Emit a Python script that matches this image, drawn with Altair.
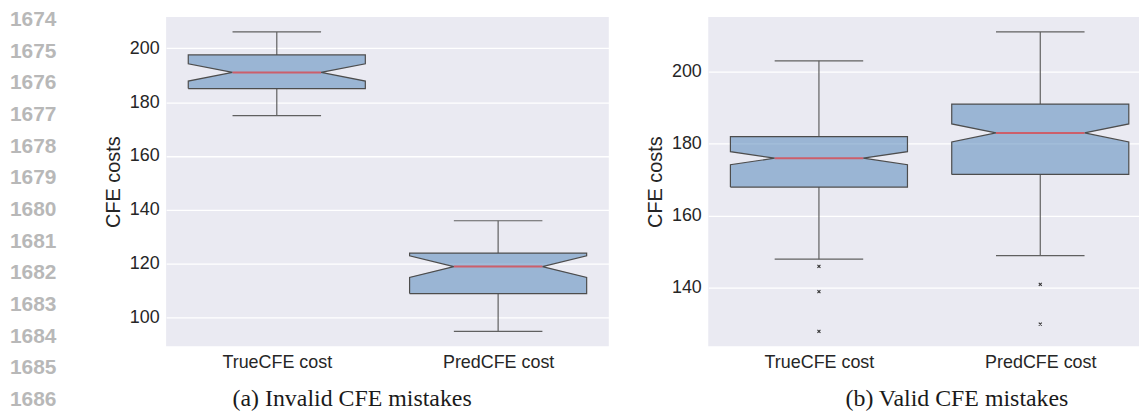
import altair as alt
import pandas as pd

# Category labels shared by both panels
categories = ["TrueCFE cost", "PredCFE cost"]

# Box statistics per category: lower whisker, Q1, notch low, median, notch high, Q3, upper whisker
invalid_whisker_lo = [175, 95]
invalid_q1 = [185, 109]
invalid_notch_lo = [187.8, 115]
invalid_median = [191, 119]
invalid_notch_hi = [194.2, 123]
invalid_q3 = [197.5, 124]
invalid_whisker_hi = [206, 136]
invalid_outliers = [[], []]

valid_whisker_lo = [148, 149]
valid_q1 = [168, 171.5]
valid_notch_lo = [174.2, 180.5]
valid_median = [176, 183]
valid_notch_hi = [177.8, 185.5]
valid_q3 = [182, 191]
valid_whisker_hi = [203, 211]
valid_outliers = [[146, 139, 128], [141, 130]]

# Margin line numbers printed down the left edge
line_numbers = list(range(1674, 1687))

captions = ["(a) Invalid CFE mistakes", "(b) Valid CFE mistakes"]

BOX_HALF = 0.4
NOTCH_HALF = 0.2
FILL = "#5888bb"
FILL_OPACITY = 0.55
EDGE = "#4d4d4d"
WHISK = "#606060"
MEDIAN = "#cc5f6b"
FONT = "Liberation Sans"

label_expr = " : ".join(
    [f"datum.value == {i} ? '{c}'" for i, c in enumerate(categories[:-1])]
    + [f"'{categories[-1]}'"]
)


def notch_outline(i, q1, nlo, med, nhi, q3):
    """Closed outline of one notched box, as (x, y) vertices."""
    b, n = BOX_HALF, NOTCH_HALF
    return [
        (i - b, q1), (i + b, q1), (i + b, nlo), (i + n, med), (i + b, nhi),
        (i + b, q3), (i - b, q3), (i - b, nhi), (i - n, med), (i - b, nlo),
        (i - b, q1),
    ]


def build_panel(wlo, q1, nlo, med, nhi, q3, whi, outliers, x_max, width,
                tick_values, caption, caption_x, with_line_numbers=False):
    lows = [min([a] + o) for a, o in zip(wlo, outliers)]
    lo, hi = min(lows), max(whi)
    span = hi - lo
    ydom = [lo - 0.05 * span, hi + 0.05 * span]
    yscale = alt.Scale(domain=ydom, zero=False, nice=False)
    xscale = alt.Scale(domain=[-0.5, x_max], nice=False, zero=False)

    poly, med_rows, whisk_rows, cap_rows, out_rows = [], [], [], [], []
    for i in range(len(categories)):
        for k, (xv, yv) in enumerate(notch_outline(i, q1[i], nlo[i], med[i], nhi[i], q3[i])):
            poly.append({"cat": i, "ord": k, "x": xv, "y": yv})
        med_rows.append({"xl": i - NOTCH_HALF, "xr": i + NOTCH_HALF, "y": med[i]})
        whisk_rows.append({"x": i, "y": q3[i], "y2": whi[i]})
        whisk_rows.append({"x": i, "y": q1[i], "y2": wlo[i]})
        cap_rows.append({"xl": i - NOTCH_HALF, "xr": i + NOTCH_HALF, "y": whi[i]})
        cap_rows.append({"xl": i - NOTCH_HALF, "xr": i + NOTCH_HALF, "y": wlo[i]})
        for o in outliers[i]:
            out_rows.append({"x": i, "y": o})

    x_axis = alt.Axis(values=list(range(len(categories))), labelExpr=label_expr,
                      title=None, grid=False, labelPadding=7)
    y_axis = alt.Axis(values=tick_values, title="CFE costs", grid=True,
                      labelPadding=7, titlePadding=6)

    whiskers = alt.Chart(pd.DataFrame(whisk_rows)).mark_rule(
        color=WHISK, strokeWidth=1.2
    ).encode(
        x=alt.X("x:Q", scale=xscale, axis=x_axis),
        y=alt.Y("y:Q", scale=yscale, axis=y_axis),
        y2="y2:Q",
    )
    caps = alt.Chart(pd.DataFrame(cap_rows)).mark_rule(
        color=WHISK, strokeWidth=1.2
    ).encode(x="xl:Q", x2="xr:Q", y="y:Q")
    boxes = alt.Chart(pd.DataFrame(poly)).mark_line(
        fill=FILL, fillOpacity=FILL_OPACITY, stroke=EDGE, strokeWidth=1.2,
        interpolate="linear", strokeJoin="miter"
    ).encode(
        x="x:Q",
        y="y:Q",
        detail="cat:N",
        order="ord:Q",
    )
    medians = alt.Chart(pd.DataFrame(med_rows)).mark_rule(
        color=MEDIAN, strokeWidth=2
    ).encode(x="xl:Q", x2="xr:Q", y="y:Q")

    layers = [whiskers, caps, boxes, medians]
    if out_rows:
        layers.append(
            alt.Chart(pd.DataFrame(out_rows)).mark_point(
                shape="M-1,-1L1,1M-1,1L1,-1", size=9, filled=False,
                color="#333333", strokeWidth=1.1, opacity=1
            ).encode(x="x:Q", y="y:Q")
        )

    cap_text = alt.Chart(pd.DataFrame({"t": [caption]})).mark_text(
        font="Liberation Serif", fontSize=24, color="#1a1a1a",
        align="center", baseline="middle"
    ).encode(text="t:N", x=alt.value(caption_x), y=alt.value(384))
    layers.append(cap_text)

    chart = alt.layer(*layers)
    if with_line_numbers:
        nums = alt.Chart(pd.DataFrame({"n": line_numbers})).mark_text(
            font=FONT, fontSize=21, fontWeight="bold", color="#b8b8b8",
            align="left", baseline="middle"
        ).encode(
            text="n:N",
            x=alt.value(-157),
            y=alt.Y("n:Q", axis=None,
                    scale=alt.Scale(domain=[line_numbers[0], line_numbers[-1]],
                                    range=[3, 385])),
        )
        chart = alt.layer(chart, nums).resolve_scale(y="independent")
    return chart.properties(width=width, height=331)


left = build_panel(invalid_whisker_lo, invalid_q1, invalid_notch_lo, invalid_median,
                   invalid_notch_hi, invalid_q3, invalid_whisker_hi, invalid_outliers,
                   1.5, 445, [100, 120, 140, 160, 180, 200], captions[0], 187,
                   with_line_numbers=True)
right = build_panel(valid_whisker_lo, valid_q1, valid_notch_lo, valid_median,
                    valid_notch_hi, valid_q3, valid_whisker_hi, valid_outliers,
                    1.5 - 12 / 222.6, 433, [140, 160, 180, 200], captions[1], 250)

chart = alt.hconcat(left, right, spacing=36).properties(
    padding={"left": 10, "top": 8, "right": 0, "bottom": 0},
    background="#ffffff",
).configure_view(
    fill="#eaeaf2", stroke=None
).configure_axis(
    labelFont=FONT, labelFontSize=18, labelColor="#262626",
    titleFont=FONT, titleFontSize=20, titleFontWeight="normal", titleColor="#262626",
    domain=False, ticks=False, tickSize=0,
    gridColor="#ffffff", gridWidth=1.3,
)

chart.save("out.html", embed_options={"renderer": "svg", "actions": False})
